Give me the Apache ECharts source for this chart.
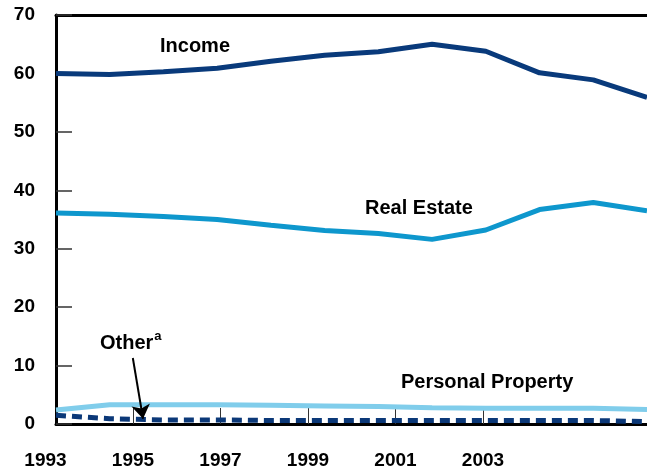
<!DOCTYPE html>
<html><head><meta charset="utf-8">
<script src="https://cdn.jsdelivr.net/npm/echarts@6/dist/echarts.min.js"></script>
<style>html,body{margin:0;padding:0;background:#fff}#c{width:647px;height:472px}</style>
</head><body><div id="c"></div>
<script>
const years = [1993,1994,1995,1996,1997,1998,1999,2000,2001,2002,2003,2004];
const income = [60.0,59.8,60.3,60.9,62.1,63.1,63.7,65.0,63.8,60.1,58.9,55.9];
const realEstate = [36.1,35.9,35.5,35.0,34.0,33.1,32.6,31.6,33.2,36.7,37.9,36.5];
const personalProperty = [2.4,3.3,3.3,3.3,3.2,3.1,3.0,2.8,2.7,2.7,2.7,2.5];
const other = [1.5,0.9,0.7,0.7,0.6,0.6,0.6,0.6,0.6,0.6,0.6,0.4];
const xLabels = [1993,1995,1997,1999,2001,2003];
const xTicks = [1995,1997,1999,2001,2003];
const yTicks = [0,10,20,30,40,50,60,70];
const seriesNames = ['Income','Real Estate','Personal Property','Other'];

const pair = arr => years.map((y,i)=>[y,arr[i]]);
const numFont = "'Liberation Sans',Arial,sans-serif";
const lblFont = "'Liberation Sans',Arial,sans-serif";

const chart = echarts.init(document.getElementById('c'), null, {renderer:'canvas'});
chart.setOption({
  animation:false,
  backgroundColor:'#fff',
  grid:[
    {left:56,right:0,top:15,bottom:48},
    {left:45.5,right:0,top:15,bottom:48}
  ],
  xAxis:[
    {type:'value',gridIndex:0,min:years[0],max:years[years.length-1],
     axisLine:{show:true,onZero:false,lineStyle:{color:'#000',width:3}},
     axisTick:{show:false},axisLabel:{show:false},splitLine:{show:false}},
    {type:'value',gridIndex:0,position:'top',min:years[0],max:years[years.length-1],
     axisLine:{show:true,onZero:false,lineStyle:{color:'#000',width:3}},
     axisTick:{show:false},axisLabel:{show:false},splitLine:{show:false}},
    {type:'value',gridIndex:1,min:1993,max:2006.75,
     axisLine:{show:false},
     axisTick:{show:true,inside:true,length:16,customValues:xTicks,lineStyle:{color:'#333',width:1}},
     axisLabel:{show:true,customValues:xLabels,margin:27,color:'#000',fontWeight:'bold',fontSize:19,fontFamily:numFont,
       formatter:v=>String(v)},
     splitLine:{show:false}}
  ],
  yAxis:[
    {type:'value',gridIndex:0,min:yTicks[0],max:yTicks[yTicks.length-1],interval:10,
     axisLine:{show:true,onZero:false,lineStyle:{color:'#000',width:3}},
     axisTick:{show:true,inside:true,length:16,lineStyle:{color:'#333',width:1.5}},
     axisLabel:{show:true,margin:21,color:'#000',fontWeight:'bold',fontSize:19,fontFamily:numFont},
     splitLine:{show:false}},
    {type:'value',gridIndex:1,min:0,max:70,show:false}
  ],
  series:[
    {name:seriesNames[3],type:'line',xAxisIndex:0,yAxisIndex:0,data:pair(other),symbol:'none',z:3,
     lineStyle:{color:'#0b3878',width:5,type:[10,6]},
     markLine:{silent:true,symbol:['none','arrow'],symbolSize:[14,14],
       label:{show:false},
       lineStyle:{color:'#000',width:2,type:'solid'},
       data:[[{coord:[1994.43,11.3]},{coord:[1994.62,0.9]}]]}},
    {name:seriesNames[2],type:'line',data:pair(personalProperty),symbol:'none',z:2,
     lineStyle:{color:'#80cdeb',width:5}},
    {name:seriesNames[1],type:'line',data:pair(realEstate),symbol:'none',
     lineStyle:{color:'#0e97cd',width:5}},
    {name:seriesNames[0],type:'line',data:pair(income),symbol:'none',
     lineStyle:{color:'#093a7b',width:5}}
  ],
  graphic:[
    {type:'text',left:160,top:36,style:{text:seriesNames[0],font:'bold 20px '+lblFont,fill:'#000'}},
    {type:'text',left:365,top:198,style:{text:seriesNames[1],font:'bold 20px '+lblFont,fill:'#000'}},
    {type:'text',left:401,top:372,style:{text:seriesNames[2],font:'bold 20px '+lblFont,fill:'#000'}},
    {type:'text',left:100,top:330,style:{text:'{b|'+seriesNames[3]+'}{s|a}',
      rich:{b:{font:'bold 20px '+lblFont,fill:'#000',verticalAlign:'bottom'},
            s:{font:'bold 13px '+lblFont,fill:'#000',verticalAlign:'top',padding:[0,0,10,1]}}}}
  ]
});
</script></body></html>
